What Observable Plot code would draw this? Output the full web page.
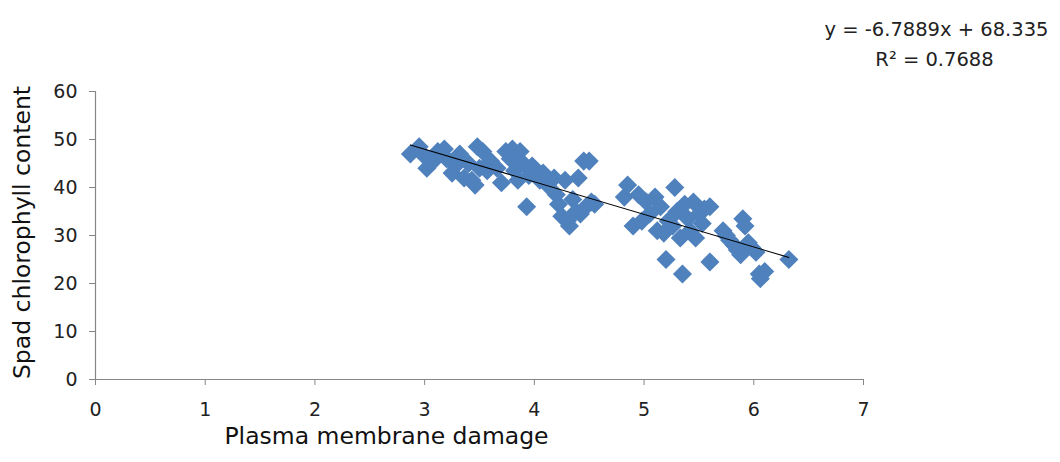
<!DOCTYPE html>
<html>
<head>
<meta charset="utf-8">
<script src="https://cdn.jsdelivr.net/npm/d3@7"></script>
<script src="https://cdn.jsdelivr.net/npm/@observablehq/plot@0.6"></script>
<style>
  html, body { margin: 0; padding: 0; background: #fff; }
  svg { display: block; }
</style>
</head>
<body>
<div id="chart"></div>
<script>
const damage = [2.87,2.95,3.0,3.02,3.08,3.12,3.18,3.2,3.25,3.28,3.32,3.36,3.4,3.43,3.46,3.48,3.5,3.53,3.57,3.6,3.66,3.7,3.74,3.78,3.8,3.82,3.85,3.87,3.9,3.93,3.95,3.98,4.02,4.05,4.08,4.12,4.18,4.2,4.22,4.25,4.28,4.3,4.32,4.35,4.38,4.4,4.42,4.45,4.47,4.5,4.52,4.55,4.82,4.85,4.9,4.95,4.98,5.02,5.05,5.1,5.12,5.15,5.18,5.2,5.22,5.26,5.28,5.3,5.33,5.35,5.37,5.4,5.42,5.45,5.47,5.5,5.53,5.55,5.6,5.6,5.72,5.75,5.78,5.82,5.85,5.88,5.9,5.92,5.95,5.98,6.02,6.05,6.06,6.1,6.32];
const spad = [47.0,48.5,46.5,44.0,45.5,47.5,48.0,46.0,43.0,44.5,47.0,42.0,45.0,41.5,40.5,48.5,44.0,47.5,43.5,45.5,44.0,41.0,47.5,46.0,48.0,43.5,41.5,47.5,45.0,36.0,42.5,44.5,43.5,41.5,43.0,40.5,42.0,38.5,36.5,34.0,41.5,33.0,32.0,37.5,35.0,42.0,34.5,45.5,36.0,45.5,37.0,36.5,38.0,40.5,32.0,38.5,33.0,37.0,34.5,38.0,31.0,36.0,30.5,25.0,33.0,32.0,40.0,35.0,29.5,22.0,36.5,33.5,31.0,37.0,29.5,34.5,32.5,35.5,36.0,24.5,31.0,30.0,29.0,28.0,27.0,26.0,33.5,32.0,28.5,27.5,26.5,22.0,21.0,22.5,25.0];
const xTicks = [0,1,2,3,4,5,6,7];
const yTicks = [0,10,20,30,40,50,60];
const slope = -6.7889;
const intercept = 68.335;
const rSquared = "0.7688";
const xTitle = "Plasma membrane damage";
const yTitle = "Spad chlorophyll content";

const points = damage.map((d, i) => ({x: d, y: spad[i]}));
const xMin = d3.min(damage), xMax = d3.max(damage);
const fit = [xMin, xMax].map(x => ({x, y: slope * x + intercept}));

const font = "DejaVu Sans, sans-serif";
const axisColor = "#868686";

const chart = Plot.plot({
  width: 1060,
  height: 462,
  marginLeft: 95,
  marginRight: 197,
  marginTop: 91,
  marginBottom: 83,
  style: {fontFamily: font, fontSize: "19px", color: "#222", background: "#fff"},
  x: {domain: [0, 7]},
  y: {domain: [0, 60]},
  marks: [
    Plot.ruleY([0], {stroke: axisColor, strokeWidth: 1.2}),
    Plot.ruleX([0], {stroke: axisColor, strokeWidth: 1.2}),
    Plot.axisX({ticks: xTicks, tickSize: 6, tickPadding: 17, stroke: axisColor, label: null, fontSize: 19, fill: "#222", tickFormat: d => String(d)}),
    Plot.axisY({ticks: yTicks, tickSize: 6, tickPadding: 12, stroke: axisColor, label: null, fontSize: 19, fill: "#222", tickFormat: d => String(d)}),
    Plot.dot(points, {x: "x", y: "y", symbol: "square", r: 7.6, rotate: 45, fill: "#4f81bd", stroke: "none"}),
    Plot.line(fit, {x: "x", y: "y", stroke: "#000", strokeWidth: 1.1}),
    Plot.text([xTitle], {frameAnchor: "bottom", dx: -93, dy: 64, textAnchor: "middle", fontSize: 23.5, fill: "#111", fontFamily: font}),
    Plot.text([yTitle], {frameAnchor: "left", dx: -73, dy: -3, rotate: -90, textAnchor: "middle", fontSize: 23.5, fill: "#111", fontFamily: font}),
    Plot.text([`y = ${slope}x + ${intercept}`], {frameAnchor: "top-right", dx: 73, dy: -69, textAnchor: "middle", fontSize: 19.5, fill: "#222", fontFamily: font}),
    Plot.text([`R² = ${rSquared}`], {frameAnchor: "top-right", dx: 71, dy: -39, textAnchor: "middle", fontSize: 19.5, fill: "#222", fontFamily: font})
  ]
});
document.getElementById("chart").appendChild(chart);
</script>
</body>
</html>
